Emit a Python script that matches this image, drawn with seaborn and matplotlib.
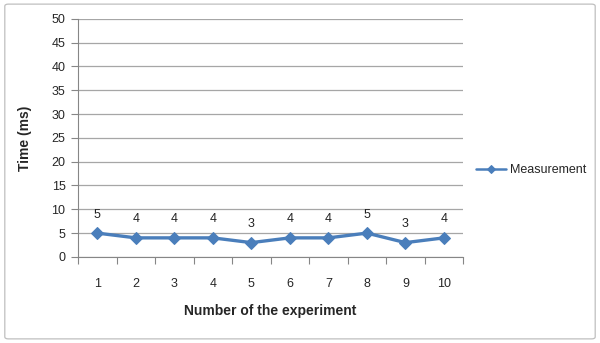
import matplotlib
matplotlib.use("Agg")
import matplotlib.pyplot as plt
import seaborn as sns
import pandas as pd
from matplotlib.patches import FancyBboxPatch

# chart data
experiments = [1, 2, 3, 4, 5, 6, 7, 8, 9, 10]
times_ms = [5, 4, 4, 4, 3, 4, 4, 5, 3, 4]
y_ticks = [0, 5, 10, 15, 20, 25, 30, 35, 40, 45, 50]
series_name = "Measurement"

LINE = "#4A7EBB"
GRID = "#A6A6A6"

sns.set_style("white")
plt.rcParams["font.family"] = ["Liberation Sans", "DejaVu Sans"]

df = pd.DataFrame({"experiment": experiments, "time": times_ms,
                   "series": series_name})

fig = plt.figure(figsize=(6, 3.43), dpi=100)
ax = fig.add_axes([0.13, 0.251, 0.642, 0.694])

# outer chart border
fig.patches.append(FancyBboxPatch((0.008, 0.012), 0.984, 0.976,
                                  boxstyle="round,pad=0,rounding_size=0.006",
                                  transform=fig.transFigure, fill=False,
                                  edgecolor="#BFBFBF", linewidth=0.9))

sns.lineplot(data=df, x="experiment", y="time", hue="series",
             palette=[LINE], marker="D", markersize=6, linewidth=2.4,
             markeredgecolor=LINE, ax=ax)

for x, y in zip(experiments, times_ms):
    ax.annotate(str(y), (x, y), xytext=(0, 9), textcoords="offset points",
                ha="center", va="bottom", fontsize=9, color="#222222")

ax.set_xlim(0.5, 10.5)
ax.set_ylim(0, 50)
ax.set_yticks(y_ticks)
ax.set_xticks(experiments)
ax.set_xticks([i + 0.5 for i in range(0, 11)], minor=True)
ax.tick_params(axis="x", which="major", length=0, pad=15, labelsize=9)
ax.tick_params(axis="x", which="minor", length=5, color="#868686", width=0.8,
               bottom=True)
ax.tick_params(axis="y", length=5, color="#868686", width=0.8, labelsize=9,
               pad=4, left=True)
ax.grid(axis="y", color=GRID, linewidth=0.9)
ax.set_axisbelow(True)
for side in ["top", "right"]:
    ax.spines[side].set_visible(False)
for side in ["left", "bottom"]:
    ax.spines[side].set_color("#868686")
    ax.spines[side].set_linewidth(0.8)

ax.set_xlabel("Number of the experiment", fontsize=10, fontweight="bold",
              labelpad=10)
ax.set_ylabel("Time (ms)", fontsize=10, fontweight="bold", labelpad=14)

leg = ax.legend(loc="center left", bbox_to_anchor=(1.005, 0.365), frameon=False,
                fontsize=9, handlelength=2.4, handletextpad=0.3)
for h in leg.legend_handles:
    h.set_linewidth(1.8)
    h.set_markersize(4.5)

fig.savefig("out.png", dpi=100)
